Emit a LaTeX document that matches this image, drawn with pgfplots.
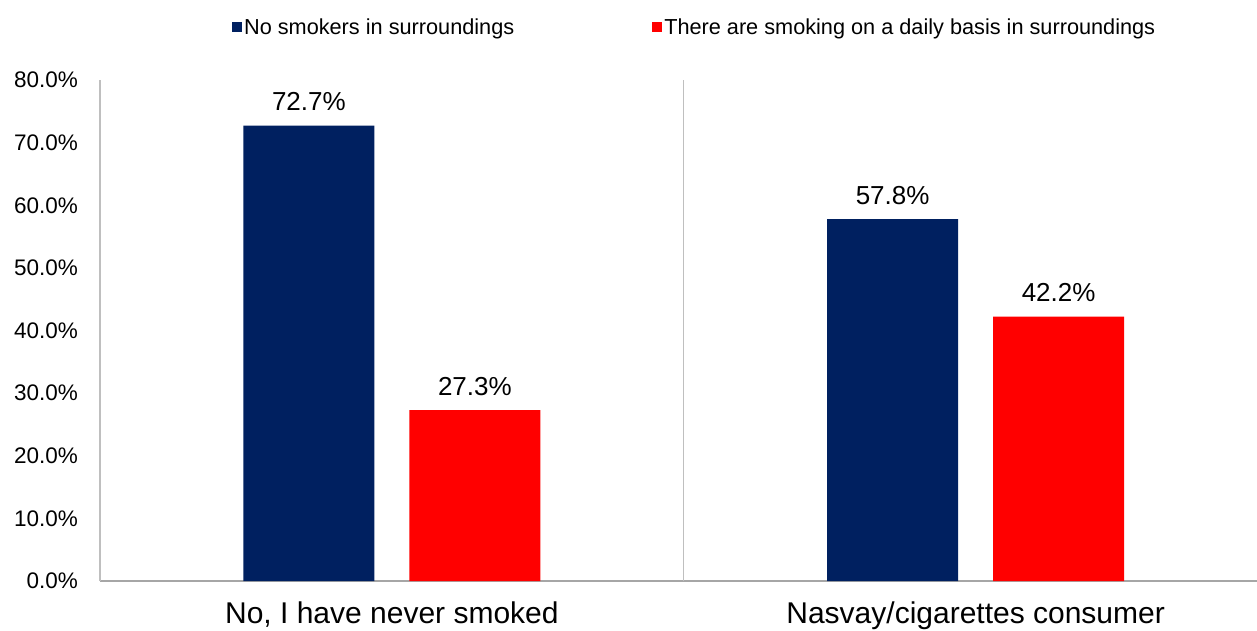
\documentclass[border=0pt]{standalone}
\usepackage{pgfplots}
\pgfplotsset{compat=1.18}
\usepackage{fontspec}
\setmainfont{Liberation Sans}
\definecolor{navy}{RGB}{0,32,96}
\definecolor{axgray}{RGB}{166,166,166}
\definecolor{sepgray}{RGB}{191,191,191}
\begin{document}
\begin{tikzpicture}
\useasboundingbox (-100pt,-49pt) rectangle (1157pt,581pt);
\begin{axis}[
 at={(0pt,0pt)}, anchor=south west,
 scale only axis, width=1157pt, height=501pt,
 xmin=-0.5, xmax=1.482, ymin=0, ymax=80,
 ybar, bar width=131pt,
 axis x line*=bottom, axis y line*=left,
 x axis line style={-, draw=axgray, line width=2pt},
 y axis line style={-, draw=sepgray, line width=1.5pt},
 major tick length=0pt,
 xtick={0,1}, xticklabels={{No, I have never smoked},{Nasvay/cigarettes consumer}},
 ytick={0,10,20,30,40,50,60,70,80},
 yticklabels={0.0\%,10.0\%,20.0\%,30.0\%,40.0\%,50.0\%,60.0\%,70.0\%,80.0\%},
 xticklabel style={anchor=base, yshift=-42pt, font=\fontsize{30}{36}\selectfont},
 yticklabel style={anchor=east, inner sep=0pt, xshift=-22pt, font=\fontsize{22.5}{27}\selectfont},
 extra x ticks={0.5}, extra x tick labels={},
 extra x tick style={grid=major, major grid style={draw=sepgray, line width=1.2pt}},
 nodes near coords={\pgfmathprintnumber[fixed,fixed zerofill,precision=1,assume math mode=true]{\pgfplotspointmeta}\%},
 nodes near coords style={anchor=base, yshift=15pt, font=\fontsize{26}{31}\selectfont, text=black},
 legend style={at={(0.114,1.106)}, anchor=west, draw=none, fill=none, inner sep=0pt,
   legend columns=2, font=\fontsize{21.7}{26}\selectfont,
   /tikz/every even column/.append style={column sep=136pt}},
 legend cell align=left,
 legend image code/.code={\path[fill,draw=none] (0pt,-5pt) rectangle (10pt,5pt);},
]
\addplot[fill=navy, draw=none, bar shift=-83pt] coordinates {(0,72.7) (1,57.8)};
\addplot[fill=red, draw=none, bar shift=83pt] coordinates {(0,27.3) (1,42.2)};
\legend{No smokers in surroundings, There are smoking on a daily basis in surroundings}
\end{axis}
\end{tikzpicture}
\end{document}
